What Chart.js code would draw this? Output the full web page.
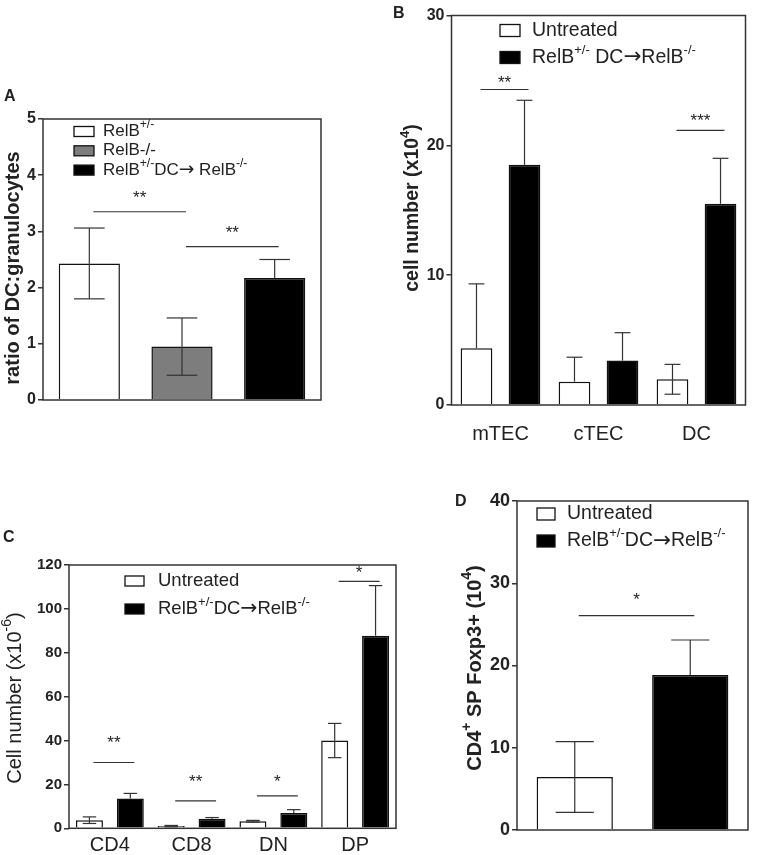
<!DOCTYPE html>
<html>
<head>
<meta charset="utf-8">
<script src="https://cdn.jsdelivr.net/npm/chart.js@4"></script>
<style>
  body { margin: 0; background: #fff; }
  #wrap { position: relative; width: 758px; height: 855px; }
  #wrap canvas { position: absolute; left: 0; top: 0; }
</style>
</head>
<body>
<div id="wrap">
  <canvas id="panelA" width="758" height="855"></canvas>
  <canvas id="panelB" width="758" height="855"></canvas>
  <canvas id="panelC" width="758" height="855"></canvas>
  <canvas id="panelD" width="758" height="855"></canvas>
</div>
<script>
// A - ratio of DC:granulocytes
const aGroups = ['RelB^{+/-}', 'RelB-/-', 'RelB^{+/-}DC→ RelB^{-/-}'];
const aRatio = [2.43, 0.95, 2.17];
const aRatioErr = [0.63, 0.51, 0.33];
const aSig = [[0, 1, 3.35, '**'], [1, 2, 2.73, '**']];

// B - thymic stromal cells
const bCells = ['mTEC', 'cTEC', 'DC'];
const bSeries = ['Untreated', 'RelB^{+/-} DC→RelB^{-/-}'];
const bUntreated = [4.37, 1.8, 1.98];
const bUntreatedErr = [4.96, 1.88, 1.15];
const bTreated = [18.5, 3.42, 15.5];
const bTreatedErr = [4.97, 2.15, 3.5];
const bSig = [[0, 24.3, '**'], [2, 21.15, '***']];

// C - thymocyte subsets
const cCells = ['CD4', 'CD8', 'DN', 'DP'];
const cSeries = ['Untreated', 'RelB^{+/-}DC→RelB^{-/-}'];
const cUntreated = [3.7, 1.0, 3.2, 40];
const cUntreatedErr = [1.5, 0.3, 0.4, 7.8];
const cTreated = [13.6, 4.4, 7.0, 87.8];
const cTreatedErr = [2.3, 0.5, 1.5, 22.8];
const cSig = [[0, 30, '**'], [1, 12.5, '**'], [2, 14.8, '*'], [3, 112.5, '*']];

// D - Foxp3+ Treg
const dGroups = ['Untreated', 'RelB^{+/-}DC→RelB^{-/-}'];
const dFoxp3 = [6.45, 18.85];
const dFoxp3Err = [4.3, 4.25];
const dSig = [[0, 1, 26.07, '*']];

const FAMILY = '"Liberation Sans", Arial, sans-serif';
const ARROW_FAMILY = '"DejaVu Sans", sans-serif';
const INK = '#222';

// split "RelB^{+/-}DC→RelB" into normal / superscript / arrow pieces
function parts(s) {
  const out = [];
  const re = /\^\{([^}]*)\}|→/g;
  let last = 0, m;
  while ((m = re.exec(s))) {
    if (m.index > last) out.push({ t: s.slice(last, m.index) });
    if (m[0] === '→') out.push({ t: '→', arrow: true });
    else out.push({ t: m[1], sup: true });
    last = re.lastIndex;
  }
  if (last < s.length) out.push({ t: s.slice(last) });
  return out;
}

function richText(ctx, s, x, y, size, weight, align) {
  const segs = parts(s);
  const f = p => p.arrow ? `normal ${size * 1.1}px ${ARROW_FAMILY}`
    : `${weight} ${p.sup ? Math.round(size * 0.68) : size}px ${FAMILY}`;
  let w = 0;
  segs.forEach(p => { ctx.font = f(p); w += ctx.measureText(p.t).width; });
  let cx = align === 'center' ? x - w / 2 : x;
  ctx.textAlign = 'left';
  ctx.textBaseline = 'middle';
  segs.forEach(p => {
    ctx.font = f(p);
    ctx.fillText(p.t, cx, p.sup ? y - size * 0.38 : y);
    cx += ctx.measureText(p.t).width;
  });
}

function line(ctx, x1, y1, x2, y2) {
  ctx.beginPath(); ctx.moveTo(x1, y1); ctx.lineTo(x2, y2); ctx.stroke();
}

const isDark = c => c === '#000' || c === '#000000';

const decor = {
  id: 'decor',
  afterDraw(chart, args, o) {
    const ctx = chart.ctx, ca = chart.chartArea, ys = chart.scales.y;
    ctx.save();
    ctx.fillStyle = INK;

    // frame
    ctx.strokeStyle = '#333';
    ctx.lineWidth = 1.5;
    ctx.strokeRect(ca.left, ca.top, ca.right - ca.left, ca.bottom - ca.top);

    // error bars (lower whisker only on light bars and when it stays above zero)
    ctx.lineWidth = 1.2;
    o.errors.forEach((errs, d) => {
      const ds = chart.data.datasets[d];
      const meta = chart.getDatasetMeta(d);
      meta.data.forEach((bar, i) => {
        const v = ds.data[i], e = errs[i];
        const fill = Array.isArray(ds.backgroundColor) ? ds.backgroundColor[i] : ds.backgroundColor;
        const cap = bar.width * 0.25;
        const yv = ys.getPixelForValue(v);
        const hi = ys.getPixelForValue(v + e);
        line(ctx, bar.x, yv, bar.x, hi);
        line(ctx, bar.x - cap, hi, bar.x + cap, hi);
        if (v - e >= 0 && !isDark(fill)) {
          const lo = ys.getPixelForValue(v - e);
          line(ctx, bar.x, yv, bar.x, lo);
          line(ctx, bar.x - cap, lo, bar.x + cap, lo);
        }
      });
    });

    // significance lines
    ctx.lineWidth = 1.2;
    o.sigs.forEach((s, k) => {
      const [[d1, i1], [d2, i2], v, label] = s;
      const x1 = chart.getDatasetMeta(d1).data[i1].x + 4;
      const x2 = chart.getDatasetMeta(d2).data[i2].x + 4;
      const yy = ys.getPixelForValue(v);
      line(ctx, x1, yy, x2, yy);
      ctx.font = `17px ${FAMILY}`;
      ctx.textAlign = 'center';
      ctx.textBaseline = 'middle';
      ctx.fillText(label, (x1 + x2) / 2, yy - o.starGap[k]);
    });

    // legend
    const lg = o.legend;
    lg.items.forEach((it, k) => {
      const cy = lg.y + k * lg.gap;
      ctx.fillStyle = it.fill;
      ctx.fillRect(lg.x, cy - lg.bh / 2, lg.bw, lg.bh);
      ctx.strokeStyle = '#111';
      ctx.lineWidth = 1.3;
      ctx.strokeRect(lg.x, cy - lg.bh / 2, lg.bw, lg.bh);
      ctx.fillStyle = INK;
      richText(ctx, it.text, lg.x + lg.bw + lg.pad, cy, lg.size, 'normal', 'left');
    });

    // y title, rotated
    const t = o.yTitle;
    ctx.save();
    ctx.translate(t.x, t.y);
    ctx.rotate(-Math.PI / 2);
    richText(ctx, t.text, 0, 0, t.size, t.weight, 'center');
    ctx.restore();

    // panel letter
    ctx.font = `bold 16px ${FAMILY}`;
    ctx.textAlign = 'left';
    ctx.textBaseline = 'middle';
    ctx.fillText(o.letter.text, o.letter.x, o.letter.y);

    ctx.restore();
  }
};

function makePanel(id, box, labels, datasets, yMax, yStep, tickSize, showX, deco) {
  const xh = showX ? 40 : 0;
  return new Chart(document.getElementById(id), {
    type: 'bar',
    data: { labels, datasets },
    options: {
      responsive: false,
      animation: false,
      layout: {
        padding: { left: box.l - 40, right: 758 - box.r, top: box.t, bottom: 855 - box.b - xh }
      },
      plugins: { legend: { display: false }, tooltip: { enabled: false }, decor: deco },
      scales: {
        x: {
          display: showX,
          offset: true,
          grid: { display: false, drawTicks: false },
          border: { display: false },
          ticks: {
            color: INK,
            font: { family: FAMILY, size: 20 },
            padding: box.xPad || 0
          },
          afterFit: s => { s.height = xh; }
        },
        y: {
          min: 0,
          max: yMax,
          border: { display: false },
          grid: { drawOnChartArea: false, tickLength: 5, color: '#333', lineWidth: 1.5 },
          ticks: {
            stepSize: yStep,
            color: INK,
            padding: 2,
            font: { family: FAMILY, size: tickSize, weight: 'bold' }
          },
          afterFit: s => { s.width = 40; }
        }
      }
    },
    plugins: [decor]
  });
}

const plain = text => text.replace(/\^\{([^}]*)\}/g, '$1');
const barStyle = { borderColor: '#111', borderWidth: 1.5, barPercentage: 0.66 };

// panel A
const aFills = ['#ffffff', '#7d7d7d', '#000000'];
makePanel('panelA', { l: 43, r: 321, t: 119, b: 400 }, aGroups.map(plain),
  [Object.assign({ data: aRatio, backgroundColor: aFills, categoryPercentage: 1 }, barStyle)],
  5, 1, 16, false, {
    errors: [aRatioErr],
    sigs: aSig.map(s => [[0, s[0]], [0, s[1]], s[2], s[3]]),
    starGap: [13, 13],
    legend: { x: 74, y: 131.5, gap: 19.3, bw: 20, bh: 10, pad: 9, size: 17,
      items: aGroups.map((g, i) => ({ text: g, fill: aFills[i] })) },
    yTitle: { text: 'ratio of DC:granulocytes', x: 13, y: 268, size: 20, weight: 'bold' },
    letter: { text: 'A', x: 4, y: 97 }
  });

// panel B
makePanel('panelB', { l: 451.5, r: 745.5, t: 15.5, b: 405, xPad: 17 }, bCells,
  [
    Object.assign({ data: bUntreated, backgroundColor: '#fff', categoryPercentage: 0.98 }, barStyle),
    Object.assign({ data: bTreated, backgroundColor: '#000', categoryPercentage: 0.98 }, barStyle)
  ],
  30, 10, 16, true, {
    errors: [bUntreatedErr, bTreatedErr],
    sigs: bSig.map(s => [[0, s[0]], [1, s[0]], s[1], s[2]]),
    starGap: [6, 9],
    legend: { x: 500, y: 30.5, gap: 27, bw: 20, bh: 12, pad: 12, size: 19.5,
      items: bSeries.map((g, i) => ({ text: g, fill: i ? '#000' : '#fff' })) },
    yTitle: { text: 'cell number (x10^{4})', x: 413, y: 208, size: 19.5, weight: 'bold' },
    letter: { text: 'B', x: 393, y: 14 }
  });

// panel C
makePanel('panelC', { l: 69, r: 396, t: 565, b: 828.3, xPad: 5 }, cCells,
  [
    Object.assign({ data: cUntreated, backgroundColor: '#fff', categoryPercentage: 1 }, barStyle),
    Object.assign({ data: cTreated, backgroundColor: '#000', categoryPercentage: 1 }, barStyle)
  ],
  120, 20, 15, true, {
    errors: [cUntreatedErr, cTreatedErr],
    sigs: cSig.map(s => [[0, s[0]], [1, s[0]], s[1], s[2]]),
    starGap: [19, 19, 14, 8],
    legend: { x: 125, y: 581, gap: 28, bw: 19, bh: 10, pad: 14, size: 18.5,
      items: cSeries.map((g, i) => ({ text: g, fill: i ? '#000' : '#fff' })) },
    yTitle: { text: 'Cell number (x10^{-6})', x: 15, y: 698, size: 20, weight: 'normal' },
    letter: { text: 'C', x: 3, y: 538 }
  });

// panel D
makePanel('panelD', { l: 517, r: 748, t: 501, b: 830 }, dGroups.map(plain),
  [Object.assign({ data: dFoxp3, backgroundColor: ['#fff', '#000'], categoryPercentage: 1 }, barStyle)],
  40, 10, 18, false, {
    errors: [dFoxp3Err],
    sigs: dSig.map(s => [[0, s[0]], [0, s[1]], s[2], s[3]]),
    starGap: [15],
    legend: { x: 537, y: 514, gap: 27, bw: 18, bh: 12, pad: 12, size: 19.5,
      items: dGroups.map((g, i) => ({ text: g, fill: i ? '#000' : '#fff' })) },
    yTitle: { text: 'CD4^{+} SP Foxp3+ (10^{4})', x: 475, y: 668, size: 20, weight: 'bold' },
    letter: { text: 'D', x: 455, y: 502 }
  });
</script>
</body>
</html>
